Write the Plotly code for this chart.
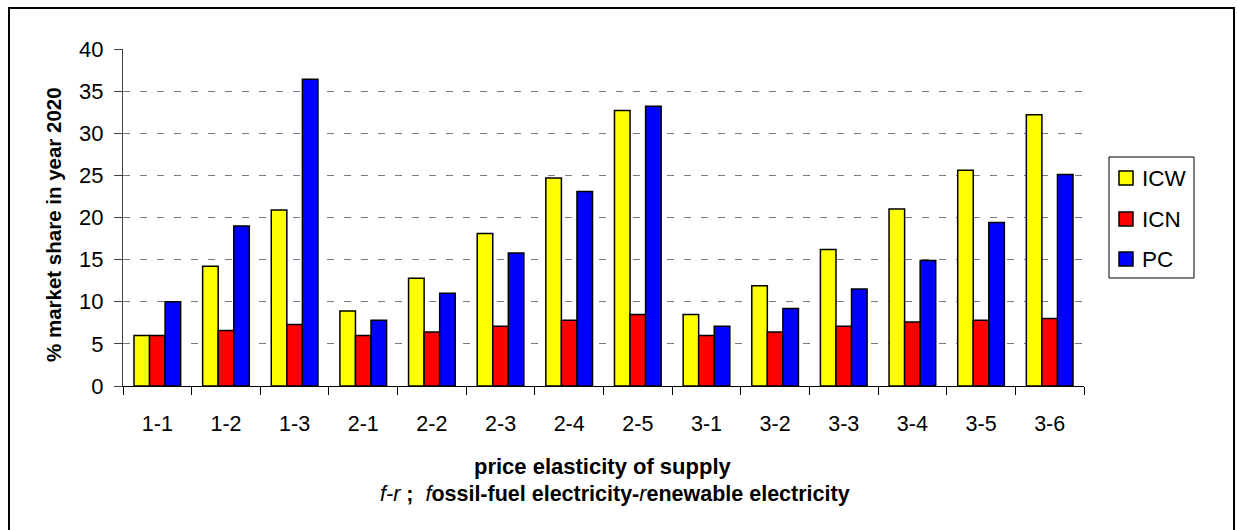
import plotly.graph_objects as go

# price elasticity of supply scenarios (fossil-fuel - renewable)
categories = ["1-1", "1-2", "1-3", "2-1", "2-2", "2-3", "2-4", "2-5",
              "3-1", "3-2", "3-3", "3-4", "3-5", "3-6"]

# % market share in year 2020
icw = [6.0, 14.2, 20.9, 8.9, 12.8, 18.1, 24.7, 32.7, 8.5, 11.9, 16.2, 21.0, 25.6, 32.2]
icn = [6.0, 6.6, 7.3, 6.0, 6.4, 7.1, 7.8, 8.5, 6.0, 6.4, 7.1, 7.6, 7.8, 8.0]
pc = [10.0, 19.0, 36.4, 7.8, 11.0, 15.8, 23.1, 33.2, 7.1, 9.2, 11.5, 14.9, 19.4, 25.1]

series = [("ICW", icw, "#FFFF00"), ("ICN", icn, "#FF0000"), ("PC", pc, "#0000FF")]

W, H = 1237, 530
# plot area in pixels
L, R, T, B = 123, 1084, 49, 386
pw, ph = R - L, B - T


def px(x):
    return (x - L) / pw


def py(y):
    return (B - y) / ph


FONT = "Liberation Sans, Arial, sans-serif"

fig = go.Figure()
for name, vals, color in series:
    fig.add_trace(go.Bar(
        x=categories, y=vals, name=name,
        marker=dict(color=color, line=dict(color="#000000", width=1.5)),
    ))

fig.update_layout(
    width=W, height=H,
    margin=dict(l=L, r=W - R, t=T, b=H - B, pad=0),
    paper_bgcolor="white", plot_bgcolor="white",
    barmode="group", bargap=0.32, bargroupgap=0,
    font=dict(family=FONT, size=21, color="#000000"),
    showlegend=False,
    xaxis=dict(
        type="category", showgrid=False, showline=True, linecolor="#000000",
        linewidth=1, ticks="outside", tickson="boundaries", ticklen=8,
        tickcolor="#000000", tickfont=dict(size=21.5), ticklabelstandoff=18,
        fixedrange=True,
    ),
    yaxis=dict(
        range=[0, 40], dtick=5, showgrid=True, gridcolor="#7a7a7a",
        griddash="7px,10px", gridwidth=1.2, zeroline=False,
        showline=True, linecolor="#404040", linewidth=1,
        ticks="outside", ticklen=8, tickcolor="#404040",
        tickfont=dict(size=22), ticklabelstandoff=6, fixedrange=True,
    ),
)

# y axis title
fig.add_annotation(
    x=px(53), y=py(225), xref="paper", yref="paper", showarrow=False,
    xanchor="center", yanchor="middle", textangle=-90,
    text="<b>% market share in year 2020</b>", font=dict(size=20.5),
)

# x axis title lines under the categories
fig.add_annotation(
    x=px(603), y=py(466), xref="paper", yref="paper", showarrow=False,
    xanchor="center", yanchor="middle",
    text="<b>price elasticity of supply</b>", font=dict(size=22),
)
fig.add_annotation(
    x=px(615), y=py(494), xref="paper", yref="paper", showarrow=False,
    xanchor="center", yanchor="middle",
    text="<i>f-r</i><b> ;  </b><i>f</i><b>ossil-fuel electricity-</b><i>r</i><b>enewable electricity</b>",
    font=dict(size=21.5),
)

# legend box with swatches
fig.add_shape(
    type="rect", xref="paper", yref="paper",
    x0=px(1109), x1=px(1194), y0=py(278), y1=py(157),
    line=dict(color="#000000", width=1), fillcolor="white",
)
row_y = [178, 219, 259]
for (name, _, color), yc in zip(series, row_y):
    fig.add_shape(
        type="rect", xref="paper", yref="paper",
        x0=px(1119), x1=px(1133), y0=py(yc + 7), y1=py(yc - 7),
        line=dict(color="#000000", width=1.5), fillcolor=color,
    )
    fig.add_annotation(
        x=px(1140), y=py(yc), xref="paper", yref="paper", showarrow=False,
        xanchor="left", yanchor="middle", text=name, font=dict(size=22.5),
    )

# outer frame of the chart
fig.add_shape(
    type="rect", xref="paper", yref="paper",
    x0=px(9), x1=px(1234), y0=py(560), y1=py(8),
    line=dict(color="#000000", width=2), fillcolor="rgba(0,0,0,0)", layer="below",
)

fig.write_html("out.html")
